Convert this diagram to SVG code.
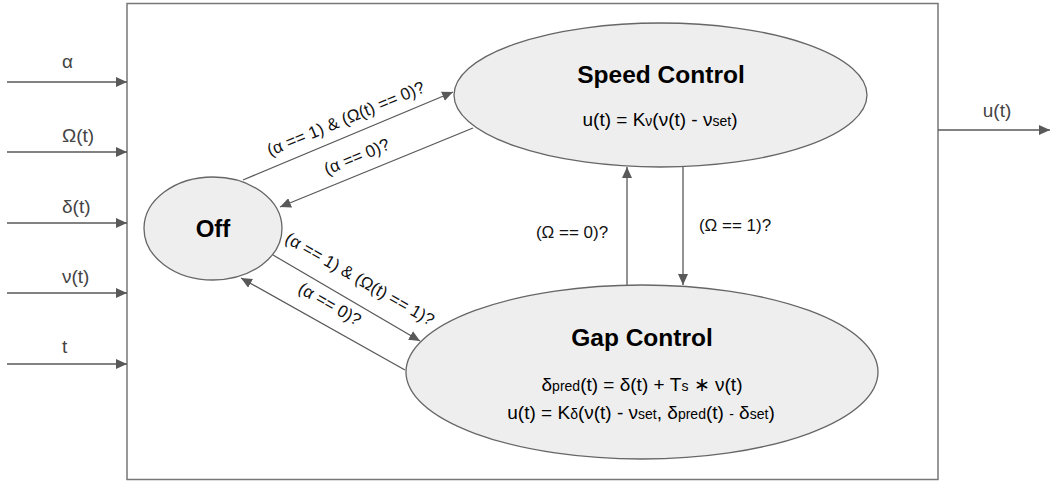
<svg xmlns="http://www.w3.org/2000/svg" width="1051" height="481" viewBox="0 0 1051 481">
<defs>
<marker id="arr" markerWidth="12" markerHeight="10" refX="11" refY="5" orient="auto" markerUnits="userSpaceOnUse">
<path d="M0,0 L11,5 L0,10 Z" fill="#595959"/>
</marker>
<style>
.ln{stroke:#595959;stroke-width:1.3;fill:none}
.st{fill:#eeeeee;stroke:#666666;stroke-width:1.3}
.t{font-family:"Liberation Sans",Arial,sans-serif;fill:#000}
.in{font-family:"Liberation Sans",Arial,sans-serif;fill:#444;font-size:19px}
.b{font-weight:bold}
.lbl{font-family:"Liberation Sans",Arial,sans-serif;fill:#111;font-size:17px}
.sub{font-size:14px}
</style>
</defs>
<rect width="1051" height="481" fill="#fff"/>
<g id="box"><rect x="127" y="3.5" width="811" height="476" fill="none" stroke="#777" stroke-width="1.5"/></g>
<g id="inputs">
<line class="ln" x1="7" y1="82" x2="127" y2="82" marker-end="url(#arr)"/>
<line class="ln" x1="7" y1="152" x2="127" y2="152" marker-end="url(#arr)"/>
<line class="ln" x1="7" y1="223" x2="127" y2="223" marker-end="url(#arr)"/>
<line class="ln" x1="7" y1="293" x2="127" y2="293" marker-end="url(#arr)"/>
<line class="ln" x1="7" y1="364" x2="127" y2="364" marker-end="url(#arr)"/>
<text class="in" x="62" y="68">α</text>
<text class="in" x="62" y="142">Ω(t)</text>
<text class="in" x="62" y="213">δ(t)</text>
<text class="in" x="62" y="283">ν(t)</text>
<text class="in" x="62" y="353">t</text>
</g>
<g id="output">
<line class="ln" x1="938" y1="130" x2="1050" y2="130" marker-end="url(#arr)"/>
<text class="in" x="997" y="117" font-size="20" text-anchor="middle">u(t)</text>
</g>
<g id="connectors">
<line class="ln" x1="243" y1="180" x2="453" y2="92" marker-end="url(#arr)"/>
<line class="ln" x1="473" y1="128" x2="280" y2="207" marker-end="url(#arr)"/>
<line class="ln" x1="273" y1="255" x2="420" y2="341" marker-end="url(#arr)"/>
<line class="ln" x1="405" y1="370" x2="241" y2="278" marker-end="url(#arr)"/>
<line class="ln" x1="627" y1="285" x2="627" y2="167" marker-end="url(#arr)"/>
<line class="ln" x1="683" y1="167" x2="683" y2="285" marker-end="url(#arr)"/>
<text class="lbl" transform="translate(348,124) rotate(-22.5)" text-anchor="middle">(α == 1) &amp; (Ω(t) == 0)?</text>
<text class="lbl" transform="translate(359,162) rotate(-22.5)" text-anchor="middle">(α == 0)?</text>
<text class="lbl" transform="translate(357,284) rotate(30)" text-anchor="middle">(α == 1) &amp; (Ω(t) == 1)?</text>
<text class="lbl" transform="translate(327,309) rotate(30)" text-anchor="middle">(α == 0)?</text>
<text class="lbl" x="572" y="238" text-anchor="middle">(Ω == 0)?</text>
<text class="lbl" x="735" y="231" text-anchor="middle">(Ω == 1)?</text>
</g>
<g id="off">
<ellipse class="st" cx="213" cy="228.5" rx="69" ry="51.5"/>
<text class="t b" x="213" y="237" font-size="24" text-anchor="middle">Off</text>
</g>
<g id="speed">
<ellipse class="st" cx="660.5" cy="95" rx="206.5" ry="72"/>
<text class="t b" x="661" y="83" font-size="24.5" text-anchor="middle">Speed Control</text>
<text class="t" x="660" y="126" font-size="19" text-anchor="middle">u(t) = K<tspan class="sub">ν</tspan>(ν(t) - ν<tspan class="sub">set</tspan>)</text>
</g>
<g id="gap">
<ellipse class="st" cx="642" cy="372" rx="236" ry="87"/>
<text class="t b" x="642" y="346" font-size="24.5" text-anchor="middle">Gap Control</text>
<text class="t" x="642" y="391" font-size="19" text-anchor="middle">δ<tspan class="sub">pred</tspan>(t) = δ(t) + T<tspan class="sub">s</tspan> ∗ ν(t)</text>
<text class="t" x="641" y="419" font-size="19" text-anchor="middle">u(t) = K<tspan class="sub">δ</tspan>(ν(t) - ν<tspan class="sub">set</tspan>, δ<tspan class="sub">pred</tspan>(t) <tspan class="sub">-</tspan> δ<tspan class="sub">set</tspan>)</text>
</g>
</svg>
